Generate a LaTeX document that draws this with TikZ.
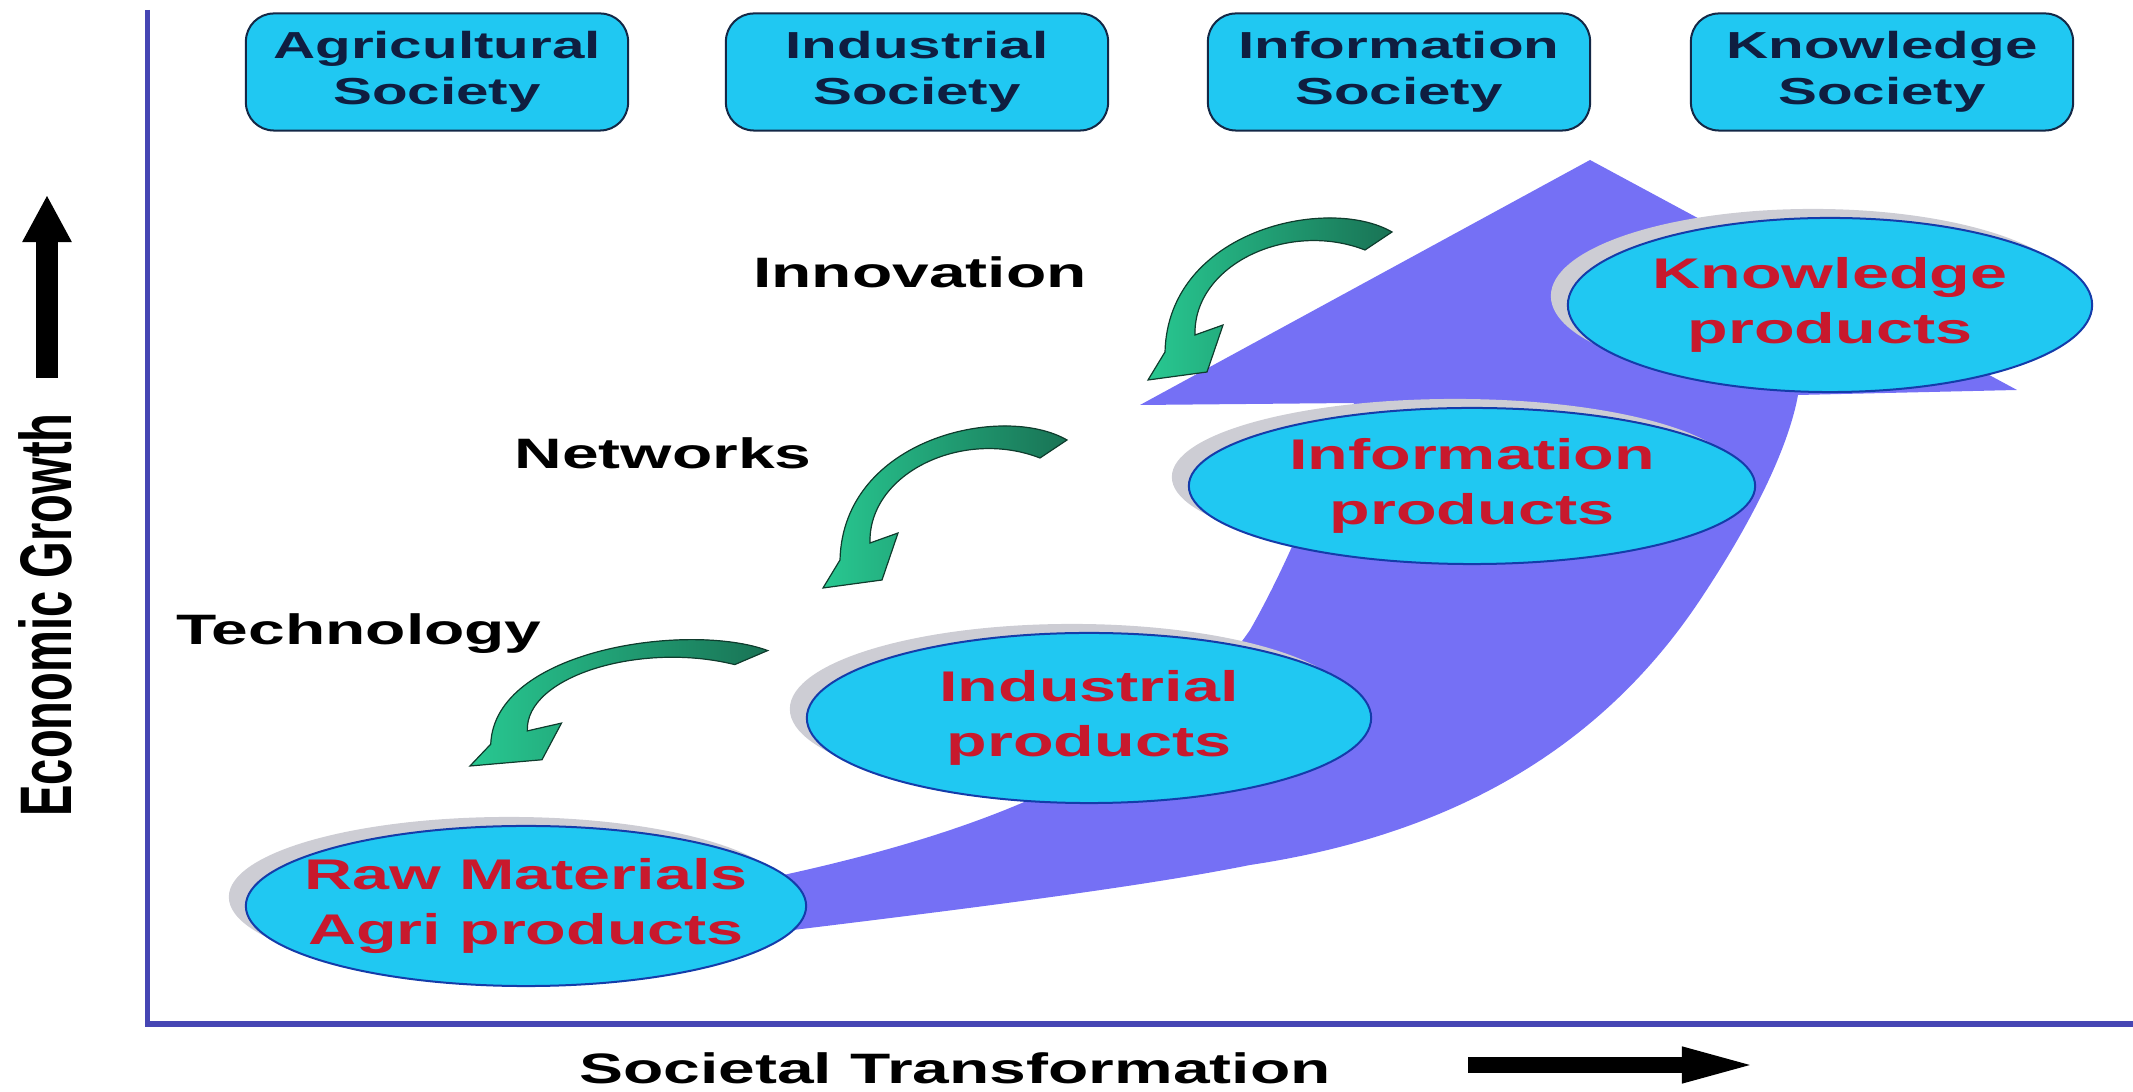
\documentclass[tikz,border=0pt]{standalone}
\usepackage{fontspec}
\newfontfamily\slidefont{Liberation Sans}[FakeStretch=1.55]
\newfontfamily\plainfont{Liberation Sans}
\usetikzlibrary{shapes.geometric, shadows, arrows.meta}
\definecolor{skyfill}{RGB}{32,200,242}
\definecolor{navytext}{RGB}{15,30,65}
\definecolor{boxline}{RGB}{20,40,70}
\definecolor{ringline}{RGB}{20,60,170}
\definecolor{redtext}{RGB}{200,25,45}
\definecolor{bandblue}{RGB}{117,112,245}
\definecolor{axisblue}{RGB}{70,70,180}
\definecolor{shadowgray}{RGB}{205,205,212}
\definecolor{deepgreen}{RGB}{25,115,85}
\definecolor{leafgreen}{RGB}{40,200,145}
\definecolor{leafline}{RGB}{15,60,45}
\tikzset{
    society/.style={draw=boxline, line width=0.02cm, fill=skyfill,
        rounded corners=0.28cm, minimum width=3.82cm, minimum height=1.17cm,
        inner sep=0, align=center, text=navytext,
        font=\slidefont\bfseries\fontsize{10.7}{13.1}\selectfont},
    product/.style={ellipse, draw=ringline, line width=0.02cm, fill=skyfill,
        inner xsep=-0.35cm, inner ysep=0, align=center, text=redtext,
        font=\slidefont\bfseries\fontsize{12.2}{15.5}\selectfont,
        drop shadow={shadow xshift=-0.17cm, shadow yshift=0.09cm,
            fill=shadowgray, opacity=1}},
    driver/.style={text=black, font=\slidefont\bfseries\fontsize{12.1}{14.5}\selectfont},
    axisline/.style={draw=axisblue, line width=0.05cm},
    fatarrow/.style={draw=black, line width=#1},
    twist/.pic={
        \fill[left color=leafgreen, right color=deepgreen, draw=leafline, line width=0.012cm]
            (244,-148) .. controls (180,-185) and (20,-150) .. (17,-28)
            -- (0,0) -- (59,-8) -- (75,-55) -- (47,-45)
            .. controls (45,-115) and (140,-160) .. (217,-130) -- cycle;
    },
}

\begin{document}
\begin{tikzpicture}[x=0.01cm, y=-0.01cm]
    \useasboundingbox (0,0) rectangle (2133,1092);

    % axes
    \coordinate (ytop) at (147,10);
    \coordinate (origin) at (147,1024);
    \coordinate (xend) at (2133,1024);
    \draw[axisline] (ytop) -- (origin) -- (xend);

    % growth band with its head
    \fill[bandblue] (760,934) .. controls (1000,905) and (1150,885) .. (1250,865)
        .. controls (1450,835) and (1600,750) .. (1700,600)
        .. controls (1760,510) and (1790,440) .. (1798,395)
        -- (2017,390) -- (1590,160) -- (1140,405) -- (1354,403)
        .. controls (1320,480) and (1290,560) .. (1250,630)
        .. controls (1160,760) and (1000,830) .. (760,880) -- cycle;

    % stages
    \node[product, minimum width=5.6cm, minimum height=1.6cm] (raw) at (526,906) {Raw Materials\\Agri products};
    \node[product, minimum width=5.64cm, minimum height=1.7cm] (ind) at (1089,718) {Industrial\\products};
    \node[product, minimum width=5.66cm, minimum height=1.56cm] (info) at (1472,486) {Information\\products};
    \node[product, minimum width=5.24cm, minimum height=1.74cm] (know) at (1830,305) {Knowledge\\products};

    % drivers
    \pic[xscale=1.22, yscale=0.78] at (470,766) {twist};
    \pic at (823,588) {twist};
    \pic at (1148,380) {twist};
    \node[driver] (tech) at (359,634) {Technology};
    \node[driver] (net) at (663,453) {Networks};
    \node[driver] (inno) at (920,272) {Innovation};

    % societies
    \node[society] (agri) at (437,72) {Agricultural\\Society};
    \node[society] (indsoc) at (917,72) {Industrial\\Society};
    \node[society] (infosoc) at (1399,72) {Information\\Society};
    \node[society] (knowsoc) at (1882,72) {Knowledge\\Society};

    % axis titles
    \node (growth) at (45,615) {\scalebox{1.55}[1]{\rotatebox{90}{\plainfont\bfseries\fontsize{13.4}{16}\selectfont Economic Growth}}};
    \coordinate (upfoot) at (47,378);
    \coordinate (uptip) at (47,195);
    \draw[fatarrow=0.22cm, -{Triangle[length=0.47cm, width=0.46cm]}] (upfoot) -- (uptip);

    \node[driver] (transform) at (955,1068) {Societal Transformation};
    \coordinate (rightfoot) at (1468,1065);
    \coordinate (righttip) at (1758,1065);
    \draw[fatarrow=0.15cm, -{Triangle[length=0.76cm, width=0.32cm]}] (rightfoot) -- (righttip);
\end{tikzpicture}
\end{document}
